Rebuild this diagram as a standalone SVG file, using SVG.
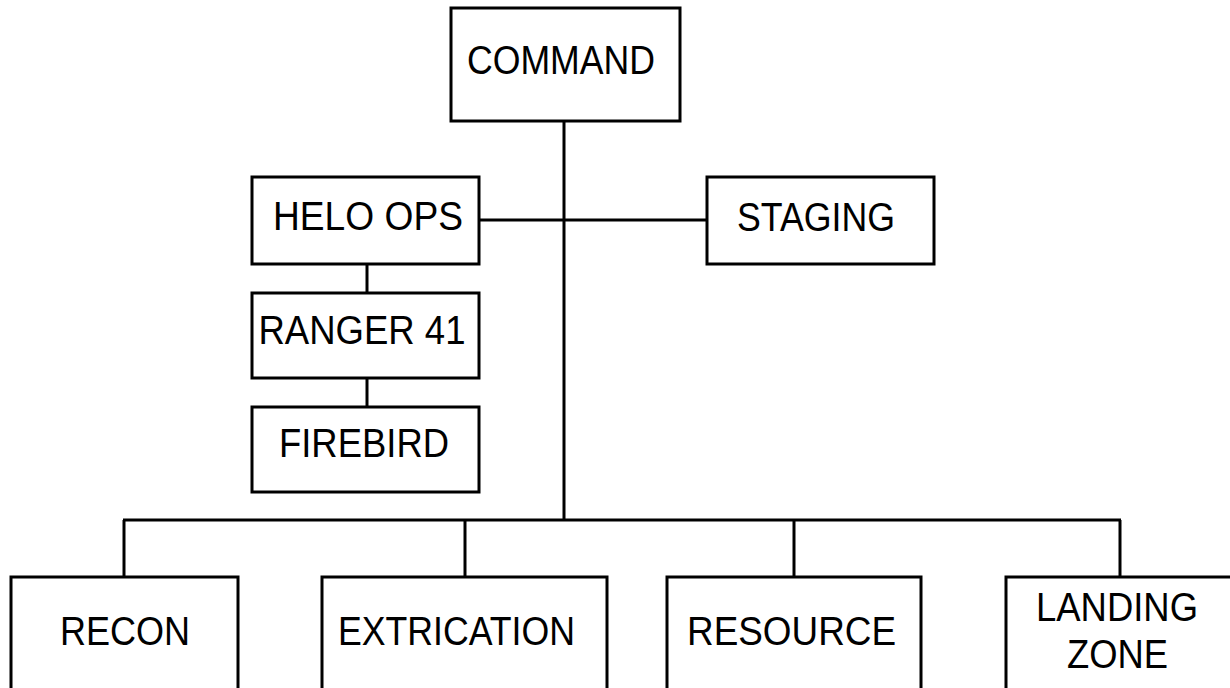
<svg xmlns="http://www.w3.org/2000/svg" width="1230" height="688" viewBox="0 0 1230 688">
<style>
.box{fill:#fff;stroke:#000;stroke-width:3}
.lbl{font-family:"Liberation Sans",Arial,sans-serif;font-size:40px;fill:#000;text-anchor:middle}
.conn line{stroke:#000;stroke-width:3;fill:none}
</style>
<rect width="1230" height="688" fill="#fff"/>
<g class="conn" id="connectors">
<line x1="564" y1="121" x2="564" y2="521"/>
<line x1="479" y1="220" x2="707" y2="220"/>
<line x1="367" y1="264" x2="367" y2="293"/>
<line x1="367" y1="378" x2="367" y2="407"/>
<line x1="123" y1="520" x2="1121" y2="520"/>
<line x1="124" y1="520" x2="124" y2="577"/>
<line x1="465" y1="520" x2="465" y2="577"/>
<line x1="794" y1="520" x2="794" y2="577"/>
<line x1="1120" y1="520" x2="1120" y2="577"/>
</g>
<g id="command"><rect class="box" x="451" y="8" width="229" height="113"/><text class="lbl" x="561" y="73.5" textLength="188" lengthAdjust="spacingAndGlyphs">COMMAND</text></g>
<g id="helo-ops"><rect class="box" x="252" y="177" width="227" height="87"/><text class="lbl" x="368" y="230" textLength="190" lengthAdjust="spacingAndGlyphs">HELO OPS</text></g>
<g id="staging"><rect class="box" x="707" y="177" width="227" height="87"/><text class="lbl" x="816" y="231" textLength="158" lengthAdjust="spacingAndGlyphs">STAGING</text></g>
<g id="ranger-41"><rect class="box" x="252" y="293" width="227" height="85"/><text class="lbl" x="362" y="344" textLength="207" lengthAdjust="spacingAndGlyphs">RANGER 41</text></g>
<g id="firebird"><rect class="box" x="252" y="407" width="227" height="85"/><text class="lbl" x="364" y="457" textLength="170" lengthAdjust="spacingAndGlyphs">FIREBIRD</text></g>
<g id="recon"><rect class="box" x="11" y="577" width="227" height="120"/><text class="lbl" x="125" y="645" textLength="130" lengthAdjust="spacingAndGlyphs">RECON</text></g>
<g id="extrication"><rect class="box" x="322" y="577" width="285" height="120"/><text class="lbl" x="456.5" y="645" textLength="237" lengthAdjust="spacingAndGlyphs">EXTRICATION</text></g>
<g id="resource"><rect class="box" x="667" y="577" width="254" height="120"/><text class="lbl" x="791.5" y="645" textLength="209" lengthAdjust="spacingAndGlyphs">RESOURCE</text></g>
<g id="landing-zone"><rect class="box" x="1006" y="577" width="240" height="120"/><text class="lbl" x="1117" y="621" textLength="162" lengthAdjust="spacingAndGlyphs">LANDING</text><text class="lbl" x="1117.5" y="668" textLength="101" lengthAdjust="spacingAndGlyphs">ZONE</text></g>
</svg>
